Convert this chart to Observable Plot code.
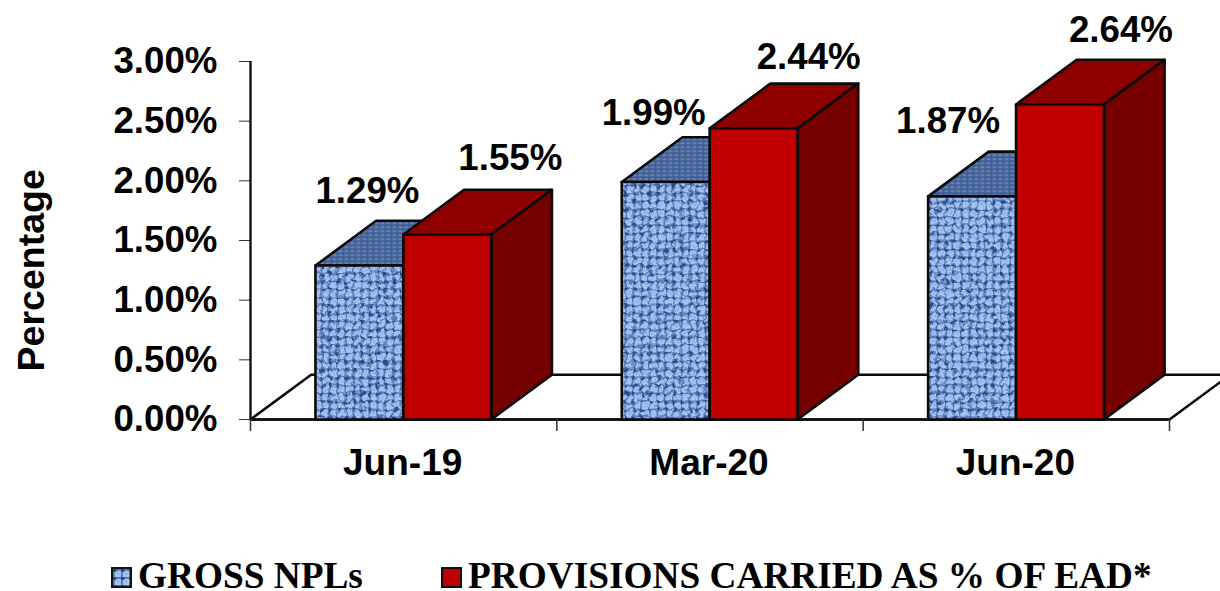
<!DOCTYPE html>
<html>
<head>
<meta charset="utf-8">
<script src="https://cdn.jsdelivr.net/npm/d3@7"></script>
<script src="https://cdn.jsdelivr.net/npm/@observablehq/plot@0.6"></script>
<style>
  html, body { margin: 0; padding: 0; background: #fff; overflow: hidden; }
  #chart svg { display: block; }
  #legend { position: relative; width: 1220px; height: 41px; font: bold 37.3px "Liberation Serif", serif; color: #000; }
  #legend .swatch { position: absolute; top: 17px; width: 17px; height: 17px; border: 2.5px solid #111; }
  #legend .name { position: absolute; top: 12px; line-height: 28px; white-space: nowrap; }
</style>
</head>
<body>
<!-- Woven cloth texture used on the blue columns and their legend key -->
<svg width="0" height="0" style="position:absolute">
  <defs>
    <pattern id="weave" width="8" height="8" patternUnits="userSpaceOnUse">
      <rect width="8" height="8" fill="#a6c2f0"/>
      <rect x="0" y="0" width="8" height="1.8" fill="#3f65a8" opacity="0.85"/>
      <rect x="0" y="0" width="1.8" height="8" fill="#3f65a8" opacity="0.85"/>
      <rect x="0" y="0" width="3.4" height="3" fill="#234583" opacity="0.9"/>
      <rect x="4" y="4" width="2.4" height="1" fill="#6f92cf" opacity="0.7"/>
    </pattern>
    <pattern id="weaveTop" width="6" height="4" patternUnits="userSpaceOnUse">
      <rect width="6" height="4" fill="#6383b4"/>
      <rect x="0" y="0" width="6" height="1.4" fill="#345285"/>
      <rect x="0" y="0" width="1.6" height="4" fill="#3d5c8f"/>
    </pattern>
    <filter id="rough" x="0" y="0" width="100%" height="100%" color-interpolation-filters="sRGB">
      <feTurbulence type="fractalNoise" baseFrequency="0.16" numOctaves="2" seed="7" result="noise"/>
      <feDisplacementMap in="SourceGraphic" in2="noise" scale="8" xChannelSelector="R" yChannelSelector="G" result="warped"/>
      <feGaussianBlur in="warped" stdDeviation="0.7" result="soft"/>
      <feFlood flood-color="#a6c2f0" result="base"/>
      <feMerge result="filled"><feMergeNode in="base"/><feMergeNode in="soft"/></feMerge>
      <feComposite in="filled" in2="SourceAlpha" operator="in"/>
    </filter>
  </defs>
</svg>
<div id="chart"></div>
<div id="legend">
  <span class="swatch" style="left:111px"><svg width="17" height="17" style="display:block"><rect width="17" height="17" fill="url(#weave)"/></svg></span>
  <span class="name" style="left:138px">GROSS NPLs</span>
  <span class="swatch" style="left:441px;background:#c00000"></span>
  <span class="name" style="left:468px">PROVISIONS CARRIED AS % OF EAD*</span>
</div>
<script>
// Chart values, in percent
const periods = ["Jun-19", "Mar-20", "Jun-20"];
const grossNpls = [1.29, 1.99, 1.87];
const provisions = [1.55, 2.44, 2.64];
const yTicks = [0, 0.5, 1, 1.5, 2, 2.5, 3];

// Pseudo-3D geometry, all expressed in the units of the x and y scales
const groupInset = 0.212;
const barWidth = 0.287;
const depthX = 0.198;
const depthY = 0.375;

// Label nudges in pixels, one per column
const grossDx = [8, -12, -24], grossDy = [-74, -69, -75];
const provDx = [63, 55, 61], provDy = [-76, -71, -74];

const font = "'Liberation Sans', Arial, sans-serif";
const labelSize = 36.7;

// One closed polygon per face of a column
function faces(values, slot) {
  const front = [], top = [], side = [];
  values.forEach((v, i) => {
    const x0 = i + groupInset + slot * barWidth, x1 = x0 + barWidth;
    const id = `${slot}-${i}`;
    const pts = (target, corners) => corners.forEach(([x, y]) => target.push({id, x, y}));
    pts(front, [[x0, 0], [x1, 0], [x1, v], [x0, v]]);
    pts(top, [[x0, v], [x1, v], [x1 + depthX, v + depthY], [x0 + depthX, v + depthY]]);
    pts(side, [[x1, 0], [x1 + depthX, depthY], [x1 + depthX, v + depthY], [x1, v]]);
  });
  return {front, top, side};
}

const poly = (rows, options) =>
  Plot.line(rows, {x: "x", y: "y", z: "id", curve: "linear-closed", stroke: "#0a0a0a", strokeWidth: 2.6, strokeLinejoin: "round", ...options});

// Floor of the chart box; its far edge runs off the right side of the page
const floor = [
  {id: "floor", x: 0, y: 0},
  {id: "floor", x: depthX, y: depthY},
  {id: "floor", x: 3 + depthX, y: depthY},
  {id: "floor", x: 3, y: 0}
];

const gross = faces(grossNpls, 0);
const prov = faces(provisions, 1);

function barMarks(f, colors) {
  return f.front.map((_, k) => k).filter(k => k % 4 === 0).flatMap(k => {
    const pick = rows => rows.slice(k, k + 4);
    return [
      poly(pick(f.top), {fill: colors.top}),
      poly(pick(f.side), {fill: colors.side}),
      colors.textured
        ? Plot.line(pick(f.front), {x: "x", y: "y", z: "id", curve: "linear-closed", fill: colors.front, stroke: "none", imageFilter: "url(#rough)"})
        : null,
      poly(pick(f.front), {fill: colors.textured ? "none" : colors.front})
    ];
  });
}

const chart = Plot.plot({
  width: 1220,
  height: 550,
  marginLeft: 250,
  marginRight: 51,
  marginTop: 61,
  marginBottom: 131,
  x: {domain: [0, 3], range: [250, 1169]},
  y: {domain: [0, 3], range: [419, 61]},
  style: {background: "transparent", overflow: "hidden"},
  marks: [
    poly(floor, {fill: "white"}),
    Plot.axisY({
      ticks: yTicks, tickFormat: d => d.toFixed(2) + "%", tickSize: 11, tickPadding: 22, tickStrokeWidth: 1.5,
      fontSize: labelSize, fontWeight: "bold", fontFamily: font, label: null, fill: "#000", stroke: "#333"
    }),
    Plot.ruleX([0], {y1: 0, y2: 3, stroke: "#111", strokeWidth: 2.4}),
    Plot.ruleY([0], {x1: 0, x2: 3, stroke: "#111", strokeWidth: 2.6}),
    Plot.axisX({ticks: [0, 1, 2, 3], tickSize: 12, tickFormat: () => "", label: null, stroke: "#333", strokeWidth: 1.5}),
    Plot.text(periods, {
      x: (_, i) => i + 0.5, y: 0, text: d => d, dy: 44, dx: -1,
      fontSize: 37, fontWeight: "bold", fontFamily: font, fill: "#000"
    }),
    Plot.text(["Percentage"], {
      frameAnchor: "left", y: () => 1.25, dx: -219, text: d => d, rotate: -90, textAnchor: "middle",
      fontSize: 37.5, fontWeight: "bold", fontFamily: font, fill: "#000"
    }),
    ...barMarks(gross, {front: "url(#weave)", top: "url(#weaveTop)", side: "#4a6591", textured: true}),
    ...barMarks(prov, {front: "#c00000", top: "#8e0000", side: "#750000"}),
    ...grossNpls.map((v, i) => Plot.text([v], {
      x: i + groupInset + barWidth / 2, y: d => d, text: d => d.toFixed(2) + "%",
      dx: grossDx[i], dy: grossDy[i],
      fontSize: labelSize, fontWeight: "bold", fontFamily: font, fill: "#000"
    })),
    ...provisions.map((v, i) => Plot.text([v], {
      x: i + groupInset + barWidth * 1.5, y: d => d, text: d => d.toFixed(2) + "%",
      dx: provDx[i], dy: provDy[i],
      fontSize: labelSize, fontWeight: "bold", fontFamily: font, fill: "#000"
    }))
  ]
});
document.getElementById("chart").append(chart);
</script>
</body>
</html>
